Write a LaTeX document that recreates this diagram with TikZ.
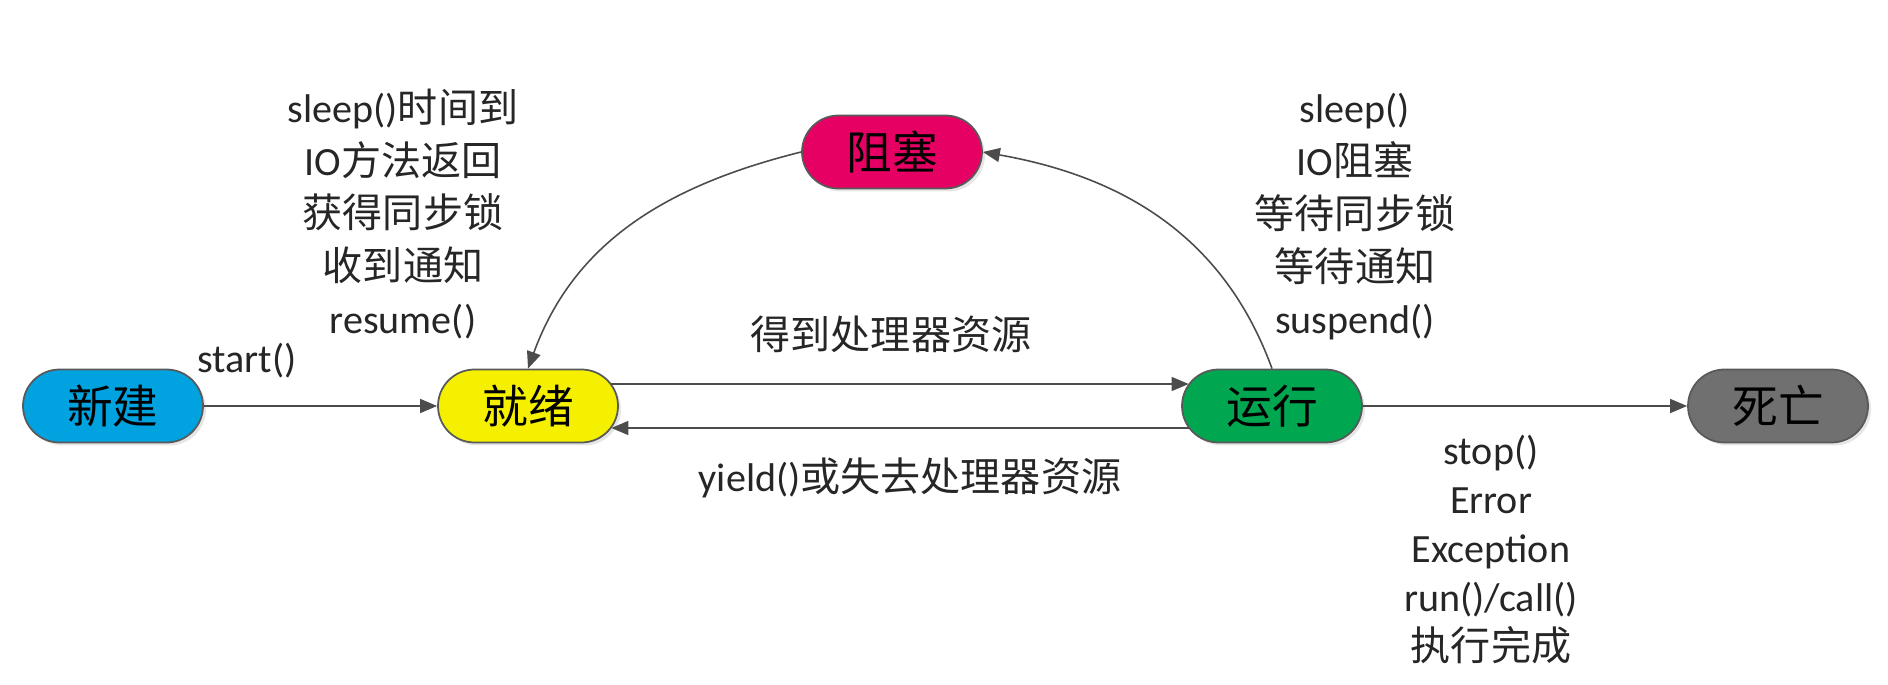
\documentclass[tikz,border=0pt]{standalone}
\usepackage{fontspec}
\setmainfont{Carlito}
\newfontfamily\cjk{Noto Sans CJK SC}
\usetikzlibrary{shadows,arrows.meta}

\definecolor{xjblue}{RGB}{0,162,224}
\definecolor{jxyellow}{RGB}{244,240,0}
\definecolor{zsred}{RGB}{230,0,100}
\definecolor{yxgreen}{RGB}{0,166,80}
\definecolor{swgray}{RGB}{112,112,112}

\tikzset{
  state/.style={rectangle, rounded corners=0.365cm, draw=black!65, line width=0.5pt,
    minimum width=1.8cm, minimum height=0.73cm,
    font=\cjk\fontsize{13pt}{15pt}\selectfont,
    drop shadow={opacity=0.2,shadow xshift=0.03cm,shadow yshift=-0.03cm}},
  lbl/.style={align=center, text=black!85, font=\fontsize{11.4pt}{15pt}\selectfont},
  link/.style={draw=black!70, line width=0.45pt, -{Triangle[length=1.7mm,width=1.4mm]}},
  inset/.style={shorten <=-0.75mm, shorten >=-0.75mm}
}

\begin{document}
\begin{tikzpicture}
\useasboundingbox (0,0) rectangle (18.88,6.84);
\node [state, fill=xjblue] (xj) at (1.13,2.78) {新建};
\node [state, fill=jxyellow] (jx) at (5.28,2.78) {就绪};
\node [state, fill=zsred] (zs) at (8.92,5.32) {阻塞};
\node [state, fill=yxgreen] (yx) at (12.72,2.78) {运行};
\node [state, fill=swgray] (sw) at (17.78,2.78) {死亡};
\draw [link] (xj) -- (jx);
\draw [link, inset] ([yshift=2.2mm]jx.east) -- ([yshift=2.2mm]yx.west);
\draw [link, inset] ([yshift=-2.2mm]yx.west) -- ([yshift=-2.2mm]jx.east);
\draw [link] (yx) -- (sw);
\draw [link] (yx.north) to [out=110,in=-10] (zs.east);
\draw [link] (zs.west) to [out=194,in=70] (jx.north);
\node [lbl] at (2.47,3.23) {start()};
\node [lbl] at (4.03,4.70) {sleep(){\cjk 时间到}\\IO{\cjk 方法返回}\\{\cjk 获得同步锁}\\{\cjk 收到通知}\\resume()};
\node [lbl] at (13.55,4.67) {sleep()\\IO{\cjk 阻塞}\\{\cjk 等待同步锁}\\{\cjk 等待通知}\\suspend()};
\node [lbl] at (8.91,3.50) {\cjk 得到处理器资源};
\node [lbl] at (9.10,2.06) {yield(){\cjk 或失去处理器资源}};
\node [lbl, font=\fontsize{11.4pt}{13.9pt}\selectfont] at (14.91,1.345) {stop()\\Error\\Exception\\run()/call()\\{\cjk 执行完成}};
\end{tikzpicture}
\end{document}
